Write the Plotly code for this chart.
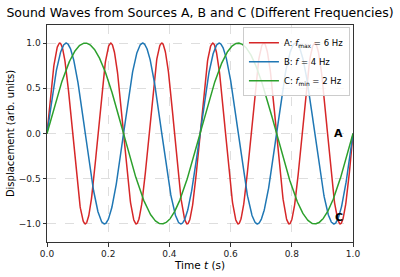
import numpy as np
import plotly.graph_objects as go

# Data
sources = ["A", "B", "C"]
frequencies_hz = [6, 4, 2]
legend_labels = [
    "A: <i>f</i><sub>max</sub> = 6 Hz",
    "B: <i>f</i> = 4 Hz",
    "C: <i>f</i><sub>min</sub> = 2 Hz",
]
colors = ["#d62728", "#1f77b4", "#2ca02c"]
end_labels = ["A", "C"]
end_label_t = [0.953, 0.953]
end_label_y = [0.0, -0.93]

t = np.linspace(0, 1, 1000)

fig = go.Figure()
for name, f, lab, c in zip(sources, frequencies_hz, legend_labels, colors):
    fig.add_trace(go.Scatter(x=t, y=np.sin(2 * np.pi * f * t), mode="lines",
                             name=lab, line=dict(color=c, width=1.5)))

for lab, tx, ty in zip(end_labels, end_label_t, end_label_y):
    fig.add_annotation(x=tx, y=ty, text="<b>" + lab + "</b>", showarrow=False,
                       font=dict(size=11, color="black", family="DejaVu Sans"))

axis_common = dict(showline=True, linecolor="#333", linewidth=1, mirror=True,
                   ticks="outside", ticklen=3.5, tickcolor="#333",
                   showgrid=True, gridcolor="rgba(0,0,0,0.13)", griddash="dash",
                   gridwidth=0.8, zeroline=False, automargin=False,
                   tickfont=dict(size=9, color="#222", family="DejaVu Sans"))

fig.update_layout(
    width=400, height=277,
    margin=dict(l=47, r=47, t=25, b=35),
    paper_bgcolor="white", plot_bgcolor="white",
    title=dict(text="Sound Waves from Sources A, B and C (Different Frequencies)",
               x=0.5, xanchor="center", y=0.955, yanchor="middle",
               font=dict(size=12.5, color="black", family="DejaVu Sans")),
    xaxis=dict(range=[0, 1], tickvals=[0, 0.2, 0.4, 0.6, 0.8, 1.0],
               ticktext=["0.0", "0.2", "0.4", "0.6", "0.8", "1.0"],
               title=dict(text="Time <i>t</i> (s)", standoff=2,
                          font=dict(size=10.5, color="black", family="DejaVu Sans")),
               **axis_common),
    yaxis=dict(range=[-1.2, 1.2], tickvals=[-1, -0.5, 0, 0.5, 1],
               ticktext=["\u22121.0", "\u22120.5", "0.0", "0.5", "1.0"],
               title=dict(text="Displacement (arb. units)", standoff=2,
                          font=dict(size=10, color="black", family="DejaVu Sans")),
               **axis_common),
    legend=dict(x=0.99, y=0.99, xanchor="right", yanchor="top",
                bgcolor="rgba(255,255,255,0.85)", bordercolor="#ccc", borderwidth=1,
                font=dict(size=8.5, color="black", family="DejaVu Sans"),
                tracegroupgap=0, itemwidth=30),
    showlegend=True,
)

fig.write_html("out.html")
